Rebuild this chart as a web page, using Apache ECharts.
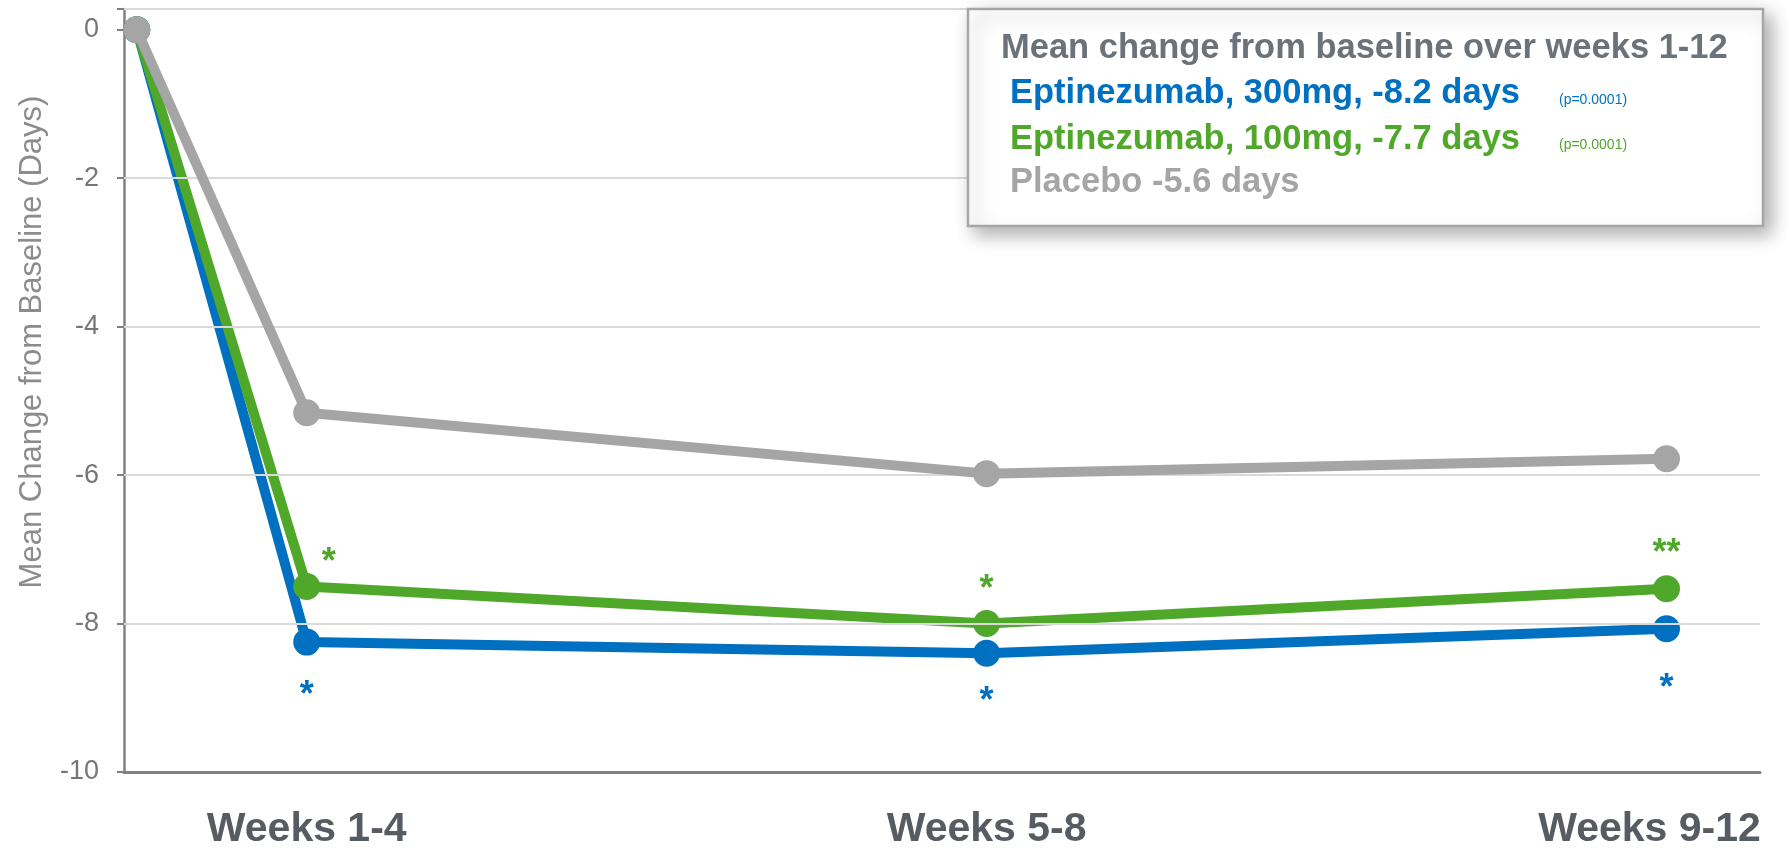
<!DOCTYPE html>
<html><head><meta charset="utf-8">
<script src="https://cdn.jsdelivr.net/npm/echarts@6/dist/echarts.min.js"></script>
<style>html,body{margin:0;padding:0;background:#fff}#chart{width:1789px;height:850px}</style>
</head><body><div id="chart"></div>
<script>
// ---- data ----
const categories = ['Baseline', 'Weeks 1-4', 'Weeks 5-8', 'Weeks 9-12'];
const xPos = [0, 1, 5, 9];
const eptinezumab300 = [0, -8.25, -8.4, -8.07];
const eptinezumab100 = [0, -7.5, -8.0, -7.53];
const placebo = [0, -5.16, -5.98, -5.78];
const sig300 = ['', '*', '*', '*'];
const sig100 = ['', '*', '*', '**'];
const yMin = -10, yMax = 0.28, yStep = 2;
const gridValues = [-8, -6, -4, -2, 0.28];
const yAxisTitle = 'Mean Change from Baseline (Days)';
const legendTitle = 'Mean change from baseline over weeks 1-12';
const legendNames = ['Eptinezumab, 300mg, -8.2 days', 'Eptinezumab, 100mg, -7.7 days', 'Placebo -5.6 days'];
const legendPValues = ['(p=0.0001)', '(p=0.0001)', ''];

// ---- styles ----
const FONT = '"Liberation Sans", Arial, Helvetica, sans-serif';
const BLUE = '#0070C0', GREEN = '#4FA82A', GRAY = '#A5A5A5';
const blueOffsets = [[0,0],[0,54],[0,49],[0,60]];
const greenOffsets = [[0,0],[22,-23],[0,-33],[0,-35]];

function mkSeries(name, values, color, marks, offsets, z) {
  return {
    name, type: 'line', z,
    symbol: 'circle', symbolSize: 27,
    lineStyle: { color, width: 10 },
    itemStyle: { color },
    emphasis: { disabled: true },
    data: values.map((v, i) => ({
      value: [xPos[i], v],
      label: marks[i] ? {
        show: true, position: 'inside', formatter: marks[i], offset: offsets[i],
        color, fontSize: 36, fontWeight: 'bold', fontFamily: FONT
      } : { show: false }
    }))
  };
}

const chart = echarts.init(document.getElementById('chart'), null, { renderer: 'canvas' });
const option = {
  animation: false,
  backgroundColor: '#ffffff',
  grid: { left: 124, right: 29, top: 9, bottom: 74, containLabel: false },
  xAxis: {
    type: 'value', min: -0.075, max: 9.55,
    axisLine: { show: true, onZero: false, lineStyle: { color: '#808080', width: 3 } },
    axisTick: { show: false },
    splitLine: { show: false },
    axisLabel: {
      customValues: xPos.slice(1),
      formatter: v => {
        const i = xPos.indexOf(v);
        return i === xPos.length - 1 ? '{last|' + categories[i] + '}' : (categories[i] || '');
      },
      rich: { last: { fontSize: 41, fontWeight: 'bold', color: '#575C63', fontFamily: FONT, padding: [0, 34, 0, 0] } },
      fontSize: 41, fontWeight: 'bold', color: '#575C63', fontFamily: FONT, margin: 37
    }
  },
  yAxis: {
    type: 'value', min: yMin, max: yMax, interval: yStep,
    axisLine: { show: true, onZero: false, lineStyle: { color: '#808080', width: 2.5 } },
    axisTick: { show: true, length: 7, lineStyle: { color: '#808080', width: 2 } },
    splitLine: { show: false },
    axisLabel: {
      formatter: v => (Math.abs(v % yStep) < 1e-9 ? String(v) : ''),
      fontSize: 27, color: '#767676', fontFamily: FONT, margin: 25
    }
  },
  series: [
    {
      type: 'line', z: 1, data: [], silent: true,
      markLine: {
        silent: true, symbol: 'none', animation: false,
        label: { show: false },
        lineStyle: { color: '#D9D9D9', width: 2, type: 'solid' },
        emphasis: { disabled: true },
        data: gridValues.map(v => ({ yAxis: v }))
      }
    },
    mkSeries('Eptinezumab 300mg', eptinezumab300, BLUE, sig300, blueOffsets, 3),
    mkSeries('Eptinezumab 100mg', eptinezumab100, GREEN, sig100, greenOffsets, 4),
    mkSeries('Placebo', placebo, GRAY, ['', '', '', ''], blueOffsets, 5)
  ],
  graphic: [
    {
      type: 'text', x: 32, y: 342, rotation: Math.PI / 2, z: 50,
      style: { text: yAxisTitle, fontSize: 31, fontFamily: FONT, fill: '#8C8C8C', align: 'center', verticalAlign: 'middle' }
    },
    {
      type: 'rect', z: 100, shape: { x: 968, y: 9, width: 795, height: 217 },
      style: { fill: '#ffffff', stroke: '#A6A6A6', lineWidth: 2.5,
               shadowBlur: 18, shadowOffsetX: 7, shadowOffsetY: 7, shadowColor: 'rgba(0,0,0,0.33)' }
    },
    {
      type: 'text', z: 101, x: 1001, y: 48,
      style: { text: legendTitle, fontSize: 34.5, fontWeight: 'bold', fontFamily: FONT, fill: '#6C727A', align: 'left', verticalAlign: 'middle' }
    },
    ...legendNames.map((t, i) => ({
      type: 'text', z: 101, x: 1010, y: [93.5, 139, 182.6][i],
      style: { text: t, fontSize: 34.5, fontWeight: 'bold', fontFamily: FONT, fill: [BLUE, GREEN, GRAY][i], align: 'left', verticalAlign: 'middle' }
    })),
    ...legendPValues.filter(t => t).map((t, i) => ({
      type: 'text', z: 101, x: 1559, y: [100, 145.5][i],
      style: { text: t, fontSize: 14, fontFamily: FONT, fill: [BLUE, GREEN][i], align: 'left', verticalAlign: 'middle' }
    }))
  ]
};
chart.setOption(option);
</script>
</body></html>
